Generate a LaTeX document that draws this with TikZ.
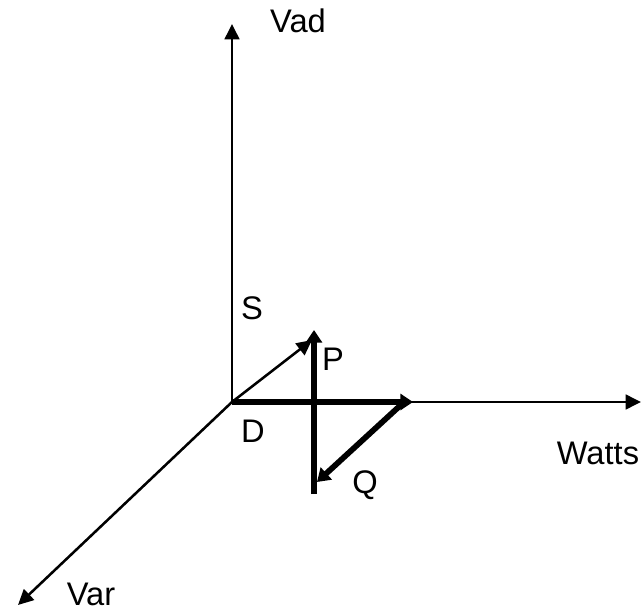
\documentclass[tikz,border=0pt]{standalone}
\usepackage{fontspec}
\setmainfont{Liberation Sans}
\usetikzlibrary{arrows.meta}
\begin{document}
\begin{tikzpicture}[x=0.75pt,y=-0.75pt,
  thinarrow/.style={line width=1.9pt,-{Triangle[length=11.5pt,width=11pt]}},
  thickarrow/.style={line width=4.3pt,-{Triangle[length=9.5pt,width=12pt]}},
  lbl/.style={font=\fontsize{24.5}{29}\selectfont,inner sep=0pt}]
\useasboundingbox (0,0) rectangle (643,610);
\coordinate (O) at (232,402);
\coordinate (vadend) at (232,24);
\coordinate (wattsend) at (641,402);
\coordinate (varend) at (18,605);
\coordinate (sarrow) at (312,340);
\coordinate (pbot) at (314,494);
\coordinate (ptop) at (314,330);
\coordinate (hend) at (413,402);
\coordinate (qstart) at (403,403);
\coordinate (qend) at (317,482);
\draw[thinarrow] (O) -- (vadend);
\draw[thinarrow] (O) -- (wattsend);
\draw[thinarrow] (O) -- (varend);
\draw[thinarrow] (O) -- (sarrow);
\draw[thickarrow] (pbot) -- (ptop);
\draw[thickarrow] (O) -- (hend);
\draw[thickarrow] (qstart) -- (qend);
\node[lbl] (vad) at (298,21) {Vad};
\node[lbl] (s) at (252,308) {S};
\node[lbl] (p) at (333,359) {P};
\node[lbl] (d) at (253,431) {D};
\node[lbl] (q) at (365,485) {Q};
\node[lbl] (watts) at (598,453) {Watts};
\node[lbl] (var) at (91,594) {Var};
\end{tikzpicture}
\end{document}
